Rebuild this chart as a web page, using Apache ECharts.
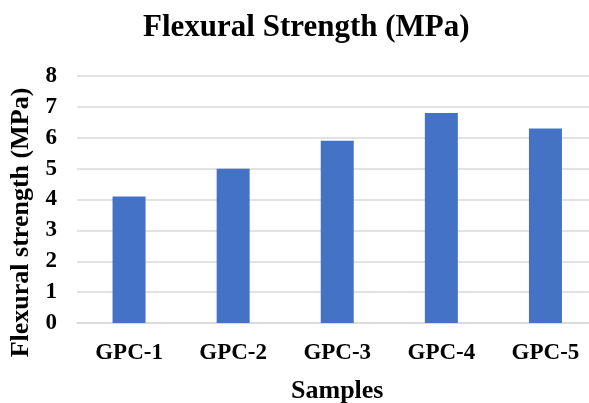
<!DOCTYPE html>
<html>
<head>
<meta charset="utf-8">
<script src="https://cdn.jsdelivr.net/npm/echarts@6/dist/echarts.min.js"></script>
<style>
html,body{margin:0;padding:0;background:#fff;}
#chart{width:589px;height:403px;}
</style>
</head>
<body>
<div id="chart"></div>
<script>
const categories = ['GPC-1', 'GPC-2', 'GPC-3', 'GPC-4', 'GPC-5'];
const strengthValues = [4.1, 5.0, 5.9, 6.8, 6.3];
const yTicks = [0, 1, 2, 3, 4, 5, 6, 7, 8];

const FONT = '"Liberation Serif", "Times New Roman", serif';
const chart = echarts.init(document.getElementById('chart'), null, {renderer: 'canvas'});
chart.setOption({
  animation: false,
  backgroundColor: '#ffffff',
  title: {
    text: 'Flexural Strength (MPa)',
    left: 138,
    top: 7,
    textStyle: {fontFamily: FONT, fontWeight: 'bold', fontSize: 31, color: '#000'}
  },
  grid: {left: 77, right: -8.5, top: 76, bottom: 80, containLabel: false, outerBoundsMode: 'none'},
  xAxis: {
    type: 'category',
    data: categories,
    name: 'Samples',
    nameLocation: 'middle',
    nameGap: 55,
    nameTextStyle: {fontFamily: FONT, fontWeight: 'bold', fontSize: 26, color: '#000'},
    axisLine: {show: true, lineStyle: {color: '#D9D9D9', width: 1.5}},
    axisTick: {show: false},
    axisLabel: {fontFamily: FONT, fontWeight: 'bold', fontSize: 23, color: '#000', margin: 19}
  },
  yAxis: {
    type: 'value',
    min: yTicks[0],
    max: yTicks[yTicks.length - 1],
    interval: 1,
    name: 'Flexural strength (MPa)',
    nameLocation: 'middle',
    nameGap: 42,
    nameTextStyle: {fontFamily: FONT, fontWeight: 'bold', fontSize: 26, color: '#000', padding: [0, 46, 0, 0]},
    axisLine: {show: false},
    axisTick: {show: false},
    splitLine: {show: true, lineStyle: {color: '#D9D9D9', width: 1.5}},
    axisLabel: {fontFamily: FONT, fontWeight: 'bold', fontSize: 23, color: '#000', margin: 20}
  },
  series: [{
    type: 'bar',
    data: strengthValues,
    barWidth: 33,
    itemStyle: {color: '#4472C4'}
  }]
});
</script>
</body>
</html>
